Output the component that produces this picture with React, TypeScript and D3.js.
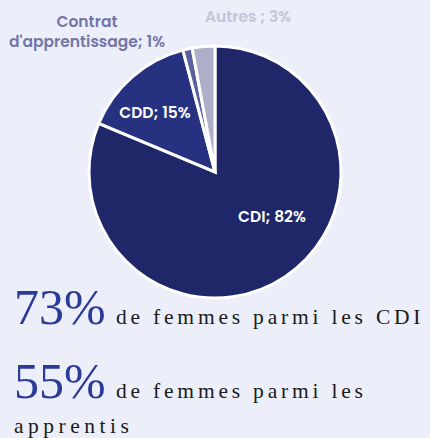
import React from "react";
import * as d3 from "d3";

const categories = ["CDI", "CDD", "Contrat d'apprentissage", "Autres"];
const values = [81.3, 14.6, 1.2, 2.9];
const labels = ["CDI; 82%", "CDD; 15%", "Contrat\nd'apprentissage; 1%", "Autres ; 3%"];
const colors = ["#1f2768", "#263180", "#5a5f9e", "#adafc8"];
const stats = [
  { big: "73%", text: "de femmes parmi les CDI" },
  { big: "55%", text: "de femmes parmi les" },
];

const W = 430;
const H = 438;

export default function App() {
  const cx = 215, cy = 172, r = 126;
  const pie = d3.pie<number>().sort(null).value((d) => d);
  const arcs = pie(values);
  const arc = d3.arc<d3.PieArcDatum<number>>().innerRadius(0).outerRadius(r);
  const font = "Poppins, Inter, 'Open Sans', sans-serif";
  const serif = "'Liberation Serif', 'DejaVu Serif', serif";
  return (
    <div style={{ position: "fixed", left: 0, top: 0, width: W, height: H, background: "#eceef9" }}>
      <svg width={W} height={H} style={{ display: "block" }}>
        <rect width={W} height={H} fill="#eceef9" />
        <g transform={`translate(${cx},${cy})`}>
          {arcs.map((a, i) => (
            <path key={categories[i]} d={arc(a) || ""} fill={colors[i]} stroke="#ffffff" strokeWidth={3} strokeLinejoin="miter" />
          ))}
        </g>
        <text x={155} y={118} textAnchor="middle" fill="#ffffff" fontFamily={font} fontWeight={600} fontSize={15.5}>{labels[1]}</text>
        <text x={272} y={222} textAnchor="middle" fill="#ffffff" fontFamily={font} fontWeight={600} fontSize={15.5}>{labels[0]}</text>
        {labels[2].split("\n").map((l, k) => (
          <text key={k} x={87} y={27 + k * 20} textAnchor="middle" fill="#7276a8" fontFamily={font} fontWeight={600} fontSize={15.5}>{l}</text>
        ))}
        <text x={248} y={22} textAnchor="middle" fill="#c3c5da" fontFamily={font} fontWeight={600} fontSize={15.5}>{labels[3]}</text>
        {stats.map((s, i) => (
          <g key={i}>
            <text x={14} y={324 + i * 74} fill="#2c3a98" fontFamily={serif} fontSize={50}>{s.big}</text>
            <text x={116} y={324 + i * 74} fill="#1a1a1a" fontFamily={serif} fontSize={21.5} letterSpacing={3.8}>{s.text}</text>
          </g>
        ))}
        <text x={14} y={433} fill="#1a1a1a" fontFamily={serif} fontSize={21.5} letterSpacing={4.5}>apprentis</text>
      </svg>
    </div>
  );
}
